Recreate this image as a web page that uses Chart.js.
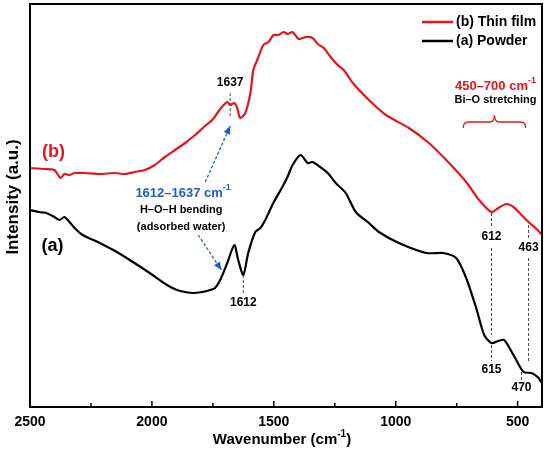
<!DOCTYPE html>
<html>
<head>
<meta charset="utf-8">
<script src="https://cdn.jsdelivr.net/npm/chart.js@4.4.1/dist/chart.umd.min.js"></script>
<style>
  html, body { margin: 0; padding: 0; background: #fff; }
</style>
</head>
<body>
<canvas id="ftirChart" width="550" height="450"></canvas>
<script>
// (b) thin film - red trace
const filmWave = [2500,2441,2400,2375,2359,2338,2317,2276,2214,2153,2111,2070,2029,1988,1947,1905,1864,1823,1782,1749,1720,1691,1679,1662,1650,1638,1617,1596,1584,1568,1543,1522,1501,1481,1460,1443,1423,1398,1369,1341,1320,1295,1267,1238,1213,1176,1110,1040,946,864,781,711,658,608,579,546,517,492,451,422,400];
const filmInt = [239,238,237,229,233,232,234,234,233,234,233,235,237,242,250,257,264,272,281,288,298,305,302,304,299,289,294,314,337,347,362,365,372,372,375,373,375,368,370,369,363,359,350,342,337,324,307,292,279,264,244,225,207,195,199,203,200,194,184,178,172];

// (a) powder - black trace
const powderWave = [2500,2462,2433,2400,2379,2359,2338,2317,2284,2214,2144,2078,2009,1938,1897,1864,1831,1794,1761,1741,1720,1691,1662,1646,1625,1605,1576,1555,1535,1502,1465,1444,1423,1390,1361,1341,1316,1279,1246,1205,1164,1110,1069,987,875,805,752,711,670,637,608,579,555,517,476,443,418,400];
const powderInt = [197,195,194,190,187,190,185,179,172,164,155,145,134,122,117,115,114,115,117,119,127,144,162,147,132,154,175,179,187,204,220,230,242,252,244,245,241,234,224,214,195,184,175,164,154,154,149,129,99,72,64,66,67,52,35,34,30,24];

const xTicks = [2500, 2000, 1500, 1000, 500];
const xMinorTicks = [2250, 1750, 1250, 750];

const FONT = '"Liberation Sans", Arial, sans-serif';
const RED = '#e3161b';
const BLUE = '#1f5cc4';

function toPoints(xs, ys) {
    return xs.map((x, i) => ({ x: x, y: ys[i] }));
}

// text with a superscript part, centred on cx
function supText(ctx, parts, cx, cy, size, color) {
    const big = `bold ${size}px ${FONT}`;
    const small = `bold ${Math.round(size * 0.68)}px ${FONT}`;
    let total = 0;
    parts.forEach(p => { ctx.font = p.sup ? small : big; p.w = ctx.measureText(p.t).width; total += p.w; });
    let x = cx - total / 2;
    ctx.fillStyle = color;
    ctx.textAlign = 'left';
    ctx.textBaseline = 'middle';
    parts.forEach(p => {
        ctx.font = p.sup ? small : big;
        ctx.fillText(p.t, x, p.sup ? cy - size * 0.4 : cy);
        x += p.w;
    });
}

function dashed(ctx, x1, y1, x2, y2, color, width) {
    ctx.save();
    ctx.strokeStyle = color;
    ctx.lineWidth = width;
    ctx.setLineDash([3, 2]);
    ctx.beginPath();
    ctx.moveTo(x1, y1);
    ctx.lineTo(x2, y2);
    ctx.stroke();
    ctx.restore();
}

function arrow(ctx, x1, y1, x2, y2) {
    dashed(ctx, x1, y1, x2, y2, BLUE, 1.3);
    const a = Math.atan2(y2 - y1, x2 - x1);
    const L = 8, W = 3.5;
    ctx.save();
    ctx.fillStyle = BLUE;
    ctx.beginPath();
    ctx.moveTo(x2, y2);
    ctx.lineTo(x2 - L * Math.cos(a) + W * Math.sin(a), y2 - L * Math.sin(a) - W * Math.cos(a));
    ctx.lineTo(x2 - L * Math.cos(a) - W * Math.sin(a), y2 - L * Math.sin(a) + W * Math.cos(a));
    ctx.closePath();
    ctx.fill();
    ctx.restore();
}

const decorations = {
    id: 'decorations',
    afterDraw(chart) {
        const ctx = chart.ctx;
        const xs = chart.scales.x, ys = chart.scales.y;
        const area = chart.chartArea;
        const X = v => xs.getPixelForValue(v);
        const Y = v => ys.getPixelForValue(v);

        ctx.save();
        // frame
        ctx.strokeStyle = '#000';
        ctx.lineWidth = 2;
        ctx.strokeRect(area.left, area.top, area.right - area.left, area.bottom - area.top);

        // inward ticks on the bottom axis
        ctx.lineWidth = 1.5;
        ctx.beginPath();
        xTicks.forEach(v => { ctx.moveTo(X(v), area.bottom); ctx.lineTo(X(v), area.bottom - 6); });
        xMinorTicks.forEach(v => { ctx.moveTo(X(v), area.bottom); ctx.lineTo(X(v), area.bottom - 4); });
        ctx.stroke();

        // axis titles
        supText(ctx, [{ t: 'Wavenumber (cm' }, { t: '-1', sup: true }, { t: ')' }], 282, 440, 15, '#000');
        ctx.save();
        ctx.translate(13, 197);
        ctx.rotate(-Math.PI / 2);
        ctx.font = `bold 17px ${FONT}`;
        ctx.fillStyle = '#000';
        ctx.textAlign = 'center';
        ctx.textBaseline = 'middle';
        ctx.fillText('Intensity (a.u.)', 0, 0);
        ctx.restore();

        // legend
        const ds = chart.data.datasets;
        ds.forEach((d, i) => {
            const ly = area.top + 18 + i * 19;
            ctx.strokeStyle = d.borderColor;
            ctx.lineWidth = 2.5;
            ctx.beginPath();
            ctx.moveTo(area.right - 120, ly);
            ctx.lineTo(area.right - 89, ly);
            ctx.stroke();
            ctx.font = `bold 14px ${FONT}`;
            ctx.fillStyle = '#000';
            ctx.textAlign = 'left';
            ctx.textBaseline = 'middle';
            ctx.fillText(d.label, area.right - 86, ly);
        });

        // curve labels
        ctx.textAlign = 'center';
        ctx.textBaseline = 'middle';
        ctx.font = `bold 18px ${FONT}`;
        ctx.fillStyle = RED;
        ctx.fillText('(b)', X(2404), Y(255));
        ctx.fillStyle = '#000';
        ctx.fillText('(a)', X(2408), Y(161));

        // peak markers
        const gray = '#444';
        ctx.font = `bold 12px ${FONT}`;
        ctx.fillStyle = '#000';
        ctx.fillText('1637', X(1679), Y(324));
        dashed(ctx, X(1679), Y(314), X(1679), Y(289), gray, 1);
        ctx.fillText('1612', X(1625), Y(104));
        dashed(ctx, X(1625), Y(132), X(1625), Y(114), gray, 1);

        ctx.fillText('612', X(607), Y(170));
        dashed(ctx, X(607), Y(194), X(607), Y(179), gray, 1);
        dashed(ctx, X(607), Y(159), X(607), Y(72), gray, 1);
        ctx.fillText('615', X(607), Y(37));
        dashed(ctx, X(607), Y(62), X(607), Y(46), gray, 1);

        ctx.fillText('463', X(455), Y(159));
        dashed(ctx, X(455), Y(182), X(455), Y(169), gray, 1);
        dashed(ctx, X(455), Y(149), X(455), Y(45), gray, 1);
        ctx.fillText('470', X(484), Y(19));
        dashed(ctx, X(484), Y(35), X(484), Y(27), gray, 1);

        // H-O-H bending note
        supText(ctx, [{ t: '1612\u20131637 cm' }, { t: '-1', sup: true }], X(1872), Y(214), 13, BLUE);
        ctx.font = `bold 11px ${FONT}`;
        ctx.fillStyle = '#000';
        ctx.textAlign = 'center';
        ctx.fillText('H\u2013O\u2013H bending', X(1880), Y(197));
        ctx.fillText('(adsorbed water)', X(1880), Y(180));
        arrow(ctx, X(1781), Y(225), X(1679), Y(281));
        arrow(ctx, X(1810), Y(172), X(1715), Y(137));

        // Bi-O stretching note
        supText(ctx, [{ t: '450\u2013700 cm' }, { t: '-1', sup: true }], X(591), Y(321), 13, RED);
        ctx.font = `bold 11px ${FONT}`;
        ctx.fillStyle = '#000';
        ctx.textAlign = 'center';
        ctx.fillText('Bi\u2013O stretching', X(591), Y(307));

        // brace
        const bl = X(723), br = X(467), bm = X(595);
        const bTop = Y(292), bMid = Y(285), bBot = Y(279);
        ctx.strokeStyle = RED;
        ctx.lineWidth = 1.3;
        ctx.beginPath();
        ctx.moveTo(bl, bBot);
        ctx.quadraticCurveTo(bl, bMid, bl + 5, bMid);
        ctx.lineTo(bm - 5, bMid);
        ctx.quadraticCurveTo(bm, bMid, bm, bTop);
        ctx.quadraticCurveTo(bm, bMid, bm + 5, bMid);
        ctx.lineTo(br - 5, bMid);
        ctx.quadraticCurveTo(br, bMid, br, bBot);
        ctx.stroke();

        ctx.restore();
    }
};

new Chart(document.getElementById('ftirChart'), {
    type: 'line',
    data: {
        datasets: [
            { label: '(b) Thin film', data: toPoints(filmWave, filmInt), borderColor: RED, borderWidth: 2.2, pointRadius: 0, tension: 0.25, fill: false },
            { label: '(a) Powder', data: toPoints(powderWave, powderInt), borderColor: '#000', borderWidth: 2.2, pointRadius: 0, tension: 0.25, fill: false }
        ]
    },
    options: {
        responsive: false,
        animation: false,
        layout: { padding: { left: 0, right: 8, top: 4, bottom: 0 } },
        scales: {
            x: {
                type: 'linear',
                reverse: true,
                min: 400,
                max: 2500,
                afterBuildTicks: scale => { scale.ticks = xTicks.map(v => ({ value: v })); },
                afterFit: scale => { scale.height = 43; },
                grid: { display: false, drawTicks: false },
                border: { display: false },
                ticks: {
                    color: '#000',
                    padding: 7,
                    maxRotation: 0,
                    font: { family: FONT, size: 14, weight: 'bold' },
                    callback: v => String(v)
                }
            },
            y: {
                min: 0,
                max: 403,
                afterFit: scale => { scale.width = 30; },
                grid: { display: false, drawTicks: false },
                border: { display: false },
                ticks: { display: false }
            }
        },
        plugins: {
            legend: { display: false },
            tooltip: { enabled: false }
        }
    },
    plugins: [decorations]
});
</script>
</body>
</html>
